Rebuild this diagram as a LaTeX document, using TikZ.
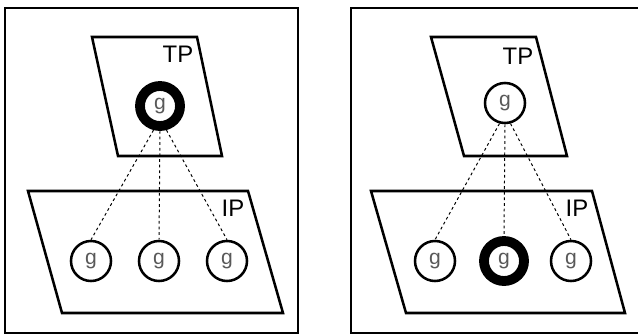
\documentclass[tikz,border=0pt]{standalone}
\usepackage{fontspec}
\setmainfont{Liberation Sans}
\usetikzlibrary{positioning}
\tikzset{
    panel/.style={draw=black, line width=1.4pt},
    plane/.style={draw=black, line width=1.8pt, line join=miter},
    planelabel/.style={font=\fontsize{17}{17}\selectfont},
    gnode/.style={circle, draw=black, line width=1.8pt, minimum size=1cm, inner sep=0pt, text=black!65, font=\fontsize{15}{15}\selectfont},
    hot/.style={line width=7pt},
    link/.style={line width=0.7pt, dash pattern=on 2pt off 2pt}
}

\begin{document}
\begin{tikzpicture}[x=0.025cm, y=-0.025cm]
    \useasboundingbox (0,0) rectangle (638,335);
    \clip (0,0) rectangle (638,335);

    % Left panel: active g on the TP plane
    \draw [panel] (5,8) rectangle (298,333);
    \draw [plane] (92,37) -- (197,37) -- (222,156) -- (118,156) -- cycle;
    \node (tpA) [planelabel] at (178,54) {TP};
    \draw [plane] (28,191) -- (248,191) -- (283,313) -- (62,313) -- cycle;
    \node (ipA) [planelabel] at (233,208) {IP};
    \node (topA) [gnode, hot] at (160,106) {g};
    \node (lowA1) [gnode] at (91,261) {g};
    \node (lowA2) [gnode] at (159,261) {g};
    \node (lowA3) [gnode] at (227,261) {g};
    \draw [link] (topA.-105) -- (lowA1.north);
    \draw [link] (topA.south) -- (lowA2.north);
    \draw [link] (topA.-75) -- (lowA3.north);

    % Right panel: active g on the IP plane
    \draw [panel] (351,8) rectangle (645,333);
    \draw [plane] (431,37) -- (536,37) -- (567,156) -- (464,156) -- cycle;
    \node (tpB) [planelabel] at (518,56) {TP};
    \draw [plane] (371,191) -- (592,191) -- (625,313) -- (406,313) -- cycle;
    \node (ipB) [planelabel] at (577,208) {IP};
    \node (topB) [gnode] at (505,103) {g};
    \node (lowB1) [gnode] at (435,261) {g};
    \node (lowB2) [gnode, hot] at (504,261) {g};
    \node (lowB3) [gnode] at (571,261) {g};
    \draw [link] (topB.-105) -- (lowB1.north);
    \draw [link] (topB.south) -- (lowB2.north);
    \draw [link] (topB.-75) -- (lowB3.north);
\end{tikzpicture}
\end{document}
